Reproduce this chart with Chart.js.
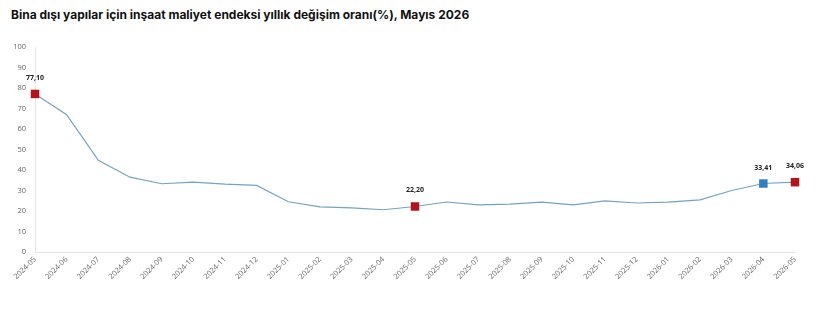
<!DOCTYPE html>
<html>
<head>
<meta charset="utf-8">
<script src="https://cdn.jsdelivr.net/npm/chart.js@4/dist/chart.umd.min.js"></script>
<style>
  html, body { margin: 0; padding: 0; background: #fff; }
  #wrap { position: relative; width: 820px; height: 320px; }
  #title { position: absolute; left: 11px; top: 7px; font: 700 12px Inter, Roboto, sans-serif; color: #111; white-space: nowrap; }
  canvas { position: absolute; left: 0; top: 0; }
</style>
</head>
<body>
<div id="wrap">
  <div id="title">Bina dışı yapılar için inşaat maliyet endeksi yıllık değişim oranı(%), Mayıs 2026</div>
  <canvas id="c" width="820" height="320"></canvas>
</div>
<script>
const months = ['2024-05','2024-06','2024-07','2024-08','2024-09','2024-10','2024-11','2024-12',
  '2025-01','2025-02','2025-03','2025-04','2025-05','2025-06','2025-07','2025-08','2025-09','2025-10',
  '2025-11','2025-12','2026-01','2026-02','2026-03','2026-04','2026-05'];
const annualChange = [77.10, 67.0, 44.7, 36.5, 33.3, 34.1, 33.1, 32.5,
  24.5, 22.0, 21.5, 20.6, 22.20, 24.4, 23.0, 23.4, 24.3, 23.0,
  24.9, 23.9, 24.3, 25.4, 30.0, 33.41, 34.06];
const yTicks = [0, 10, 20, 30, 40, 50, 60, 70, 80, 90, 100];
const highlightedRed = ['2024-05', '2025-05', '2026-05'];
const highlightedBlue = ['2026-04'];

const RED = '#b3141c', BLUE = '#2f7fc1', LINE = '#72a3c6';
const isMarked = i => highlightedRed.includes(months[i]) || highlightedBlue.includes(months[i]);
const markColor = i => highlightedBlue.includes(months[i]) ? BLUE : RED;

const labelPlugin = {
  id: 'pointLabels',
  afterDatasetsDraw(chart) {
    const ctx = chart.ctx;
    const meta = chart.getDatasetMeta(0);
    ctx.save();
    ctx.font = '700 7px "Open Sans", Arial, sans-serif';
    ctx.fillStyle = '#222';
    ctx.textAlign = 'center';
    ctx.textBaseline = 'middle';
    meta.data.forEach((pt, i) => {
      if (!isMarked(i)) return;
      ctx.fillText(annualChange[i].toFixed(2).replace('.', ','), pt.x, pt.y - 16);
    });
    ctx.restore();
  }
};

new Chart(document.getElementById('c'), {
  type: 'line',
  data: {
    labels: months,
    datasets: [{
      data: annualChange,
      borderColor: LINE,
      borderWidth: 1.2,
      tension: 0,
      pointStyle: 'rect',
      pointRadius: ctx => isMarked(ctx.dataIndex) ? 6 : 0,
      pointHoverRadius: ctx => isMarked(ctx.dataIndex) ? 6 : 0,
      pointBackgroundColor: ctx => markColor(ctx.dataIndex),
      pointBorderColor: ctx => markColor(ctx.dataIndex),
      pointBorderWidth: 0
    }]
  },
  options: {
    responsive: false,
    animation: false,
    events: [],
    layout: { padding: { top: 47, right: 25, bottom: 0, left: 0 } },
    plugins: { legend: { display: false }, tooltip: { enabled: false }, title: { display: false } },
    scales: {
      x: {
        offset: false,
        grid: { display: false, drawTicks: false },
        border: { display: true, color: '#e6e6e6', width: 1 },
        ticks: {
          autoSkip: false, minRotation: 45, maxRotation: 45, padding: 3,
          color: '#666', font: { family: '"Open Sans", Arial, sans-serif', size: 7.5 }
        },
        afterFit: s => { s.height = 68; }
      },
      y: {
        min: 0, max: 100,
        afterBuildTicks: s => { s.ticks = yTicks.map(v => ({ value: v })); },
        grid: { display: false, drawTicks: false },
        border: { display: true, color: '#e6e6e6', width: 1 },
        ticks: {
          padding: 9, color: '#666',
          font: { family: '"Open Sans", Arial, sans-serif', size: 7.5 }
        },
        afterFit: s => { s.width = 35; }
      }
    }
  },
  plugins: [labelPlugin]
});
</script>
</body>
</html>
